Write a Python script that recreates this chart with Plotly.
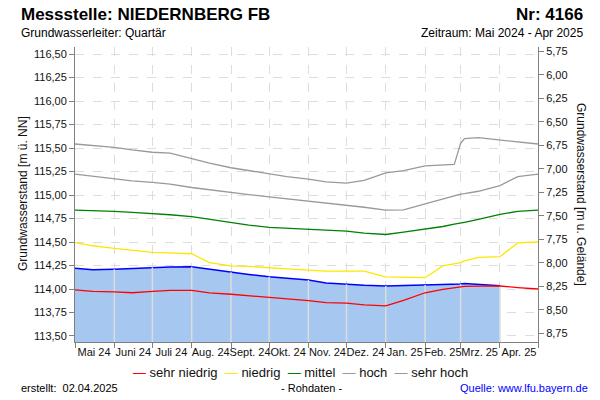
import plotly.graph_objects as go

# Stuetzstellen (halbmonatlich, plus zwei Extra-Tage um den Sprung Ende Feb.)
DATES = ["2024-05-01", "2024-05-15", "2024-06-01", "2024-06-15", "2024-07-01", "2024-07-15",
         "2024-08-01", "2024-08-15", "2024-09-01", "2024-09-15", "2024-10-01", "2024-10-15",
         "2024-11-01", "2024-11-15", "2024-12-01", "2024-12-15", "2025-01-01", "2025-01-15",
         "2025-02-01", "2025-02-15", "2025-02-24", "2025-03-01", "2025-03-04", "2025-03-15",
         "2025-04-01", "2025-04-15", "2025-05-01"]

SEHR_HOCH = [115.543, 115.525, 115.507, 115.48, 115.455, 115.445, 115.385, 115.34, 115.29,
             115.26, 115.22, 115.195, 115.17, 115.14, 115.126, 115.155, 115.235, 115.26,
             115.31, 115.32, 115.326, 115.55, 115.60, 115.61, 115.585, 115.57, 115.543]
HOCH = [115.223, 115.20, 115.167, 115.15, 115.135, 115.115, 115.08, 115.055, 115.03,
        115.005, 114.98, 114.96, 114.936, 114.915, 114.897, 114.87, 114.84, 114.842,
        114.905, 114.96, 114.995, 115.01, 115.015, 115.04, 115.10, 115.195, 115.223]
MITTEL = [114.84, 114.835, 114.826, 114.815, 114.805, 114.79, 114.77, 114.74, 114.705,
          114.68, 114.656, 114.645, 114.635, 114.628, 114.615, 114.595, 114.58, 114.605,
          114.635, 114.665, 114.69, 114.70, 114.71, 114.74, 114.795, 114.825, 114.84]
NIEDRIG = [114.493, 114.46, 114.433, 114.41, 114.39, 114.385, 114.375, 114.28, 114.245,
           114.24, 114.23, 114.215, 114.20, 114.19, 114.19, 114.19, 114.13, 114.123,
           114.12, 114.245, 114.27, 114.28, 114.30, 114.337, 114.344, 114.49, 114.50]
SEHR_NIEDRIG = [113.99, 113.975, 113.97, 113.96, 113.975, 113.985, 113.985, 113.958, 113.944,
                113.93, 113.908, 113.895, 113.876, 113.855, 113.85, 113.83, 113.82, 113.88,
                113.96, 113.995, 114.015, 114.025, 114.027, 114.03, 114.032, 114.015, 114.0]
# Messwerte bis 01.04.2025
MESS = [114.22, 114.205, 114.21, 114.22, 114.23, 114.235, 114.237, 114.21, 114.178,
        114.155, 114.13, 114.115, 114.096, 114.065, 114.05, 114.04, 114.032, 114.035,
        114.043, 114.048, 114.05, 114.052, 114.058, 114.05, 114.035]

MONTH_STARTS = ["2024-05-01", "2024-06-01", "2024-07-01", "2024-08-01", "2024-09-01",
                "2024-10-01", "2024-11-01", "2024-12-01", "2025-01-01", "2025-02-01",
                "2025-03-01", "2025-04-01", "2025-05-01"]
MONTH_MIDS = ["2024-05-16", "2024-06-16", "2024-07-16", "2024-08-16", "2024-09-16",
              "2024-10-16", "2024-11-16", "2024-12-16", "2025-01-16", "2025-02-15",
              "2025-03-16", "2025-04-16"]
MONTH_LABELS = ["Mai 24", "Juni 24", "Juli 24", "Aug. 24", "Sept. 24", "Okt. 24",
                "Nov. 24", "Dez. 24", "Jan. 25", "Feb. 25", "Mrz. 25", "Apr. 25"]

GELAENDE = 122.28
Y_MIN, Y_MAX = 113.436, 116.575
FONT = "Liberation Sans, Arial, sans-serif"

# Plotbereich in Pixeln
L, R, T, B = 75, 62, 47, 58
W, H = 600, 400
PW, PH = W - L - R, H - T - B


def px_x(x):
    return (x - L) / PW


def px_y(y):
    return (H - B - y) / PH


fig = go.Figure()

fig.add_trace(go.Scatter(x=DATES[:len(MESS)], y=MESS, mode="lines", fill="tozeroy",
                         fillcolor="#A6C8F0", line=dict(color="#0000FF", width=1.5)))

# helle Monatslinien ueber der Flaeche
vx, vy = [], []
for m in MONTH_STARTS[1:-1]:
    i = DATES.index(m)
    vx += [m, m, None]
    vy += [Y_MIN, MESS[i], None]
fig.add_trace(go.Scatter(x=vx, y=vy, mode="lines", line=dict(color="#DCDCDC", width=1.5)))

for vals, col in [(SEHR_NIEDRIG, "#FF0000"), (NIEDRIG, "#FFE600"), (MITTEL, "#008000"),
                  (HOCH, "#999999"), (SEHR_HOCH, "#999999")]:
    fig.add_trace(go.Scatter(x=DATES, y=vals, mode="lines", line=dict(color=col, width=1.3)))

# zweite Achse nur fuer die Skala
fig.add_trace(go.Scatter(x=[DATES[0]], y=[GELAENDE - MESS[0]], yaxis="y2", mode="markers",
                         marker=dict(opacity=0), hoverinfo="skip"))

fig.update_layout(
    width=W, height=H,
    showlegend=False,
    separators=",.",
    plot_bgcolor="white", paper_bgcolor="white",
    font=dict(family=FONT, size=11, color="#222222"),
    margin=dict(l=L, r=R, t=T, b=B, autoexpand=False),
    xaxis=dict(range=["2024-05-01", "2025-05-01"], tickmode="array", tickvals=MONTH_MIDS,
               ticktext=MONTH_LABELS, ticks="", tickangle=0, showgrid=False, showline=True,
               linecolor="#808080", linewidth=1, tickfont=dict(size=11, color="#111111"),
               minor=dict(tickmode="array", tickvals=MONTH_STARTS, ticks="outside", ticklen=5,
                          tickcolor="#808080", showgrid=True, gridcolor="#DDDDDD",
                          griddash="dash", gridwidth=1),
               zeroline=False, automargin=False),
    yaxis=dict(range=[Y_MIN, Y_MAX], tickmode="linear", tick0=113.5, dtick=0.25,
               tickformat=".2f", ticks="outside", ticklen=5, tickcolor="#808080",
               showline=True, linecolor="#808080", gridcolor="#DDDDDD", griddash="dash",
               zeroline=False, tickfont=dict(size=11, color="#111111"), automargin=False),
    yaxis2=dict(overlaying="y", side="right", range=[GELAENDE - Y_MIN, GELAENDE - Y_MAX],
                tickmode="linear", tick0=5.75, dtick=0.25, tickformat=".2f", ticks="outside",
                ticklen=5, tickcolor="#808080", showline=True, linecolor="#808080",
                showgrid=False, zeroline=False, tickfont=dict(size=11, color="#111111"),
                automargin=False),
)


def note(text, x, y, xanchor="center", size=11, color="#000000", angle=0):
    fig.add_annotation(text=text, xref="paper", yref="paper", x=px_x(x), y=px_y(y),
                       xanchor=xanchor, yanchor="middle", showarrow=False, textangle=angle,
                       font=dict(size=size, color=color))


note("Grundwasserstand [m ü. NN]", 23, 194, size=12, color="#111111", angle=-90)
note("Grundwasserstand [m u. Gelände]", 581, 194, size=12, color="#111111", angle=90)

note("<b>Messstelle: NIEDERNBERG FB</b>", 19, 15, xanchor="left", size=17)
note("<b>Nr: 4166</b>", 585, 15, xanchor="right", size=17)
note("Grundwasserleiter: Quartär", 19, 33, xanchor="left", size=12)
note("Zeitraum: Mai 2024 - Apr 2025", 585, 33, xanchor="right", size=12)

legend_txt = ("<span style='color:#FF0000'>—</span> sehr niedrig &nbsp;"
              "<span style='color:#FFE600'>—</span> niedrig &nbsp;"
              "<span style='color:#008000'>—</span> mittel &nbsp;"
              "<span style='color:#999999'>—</span> hoch &nbsp;"
              "<span style='color:#999999'>—</span> sehr hoch")
note(legend_txt, 300, 373, size=13, color="#111111")

note("erstellt:  02.04.2025", 19, 388, xanchor="left")
note("- Rohdaten -", 311, 388)
note("Quelle: www.lfu.bayern.de", 590, 388, xanchor="right", color="#0000FF")

# Seitenrand des Browsers entfernen, damit 600x400 genau ins Fenster passt
fig.write_html("out.html", config={"displayModeBar": False},
               post_script="document.body.style.margin='0';")
